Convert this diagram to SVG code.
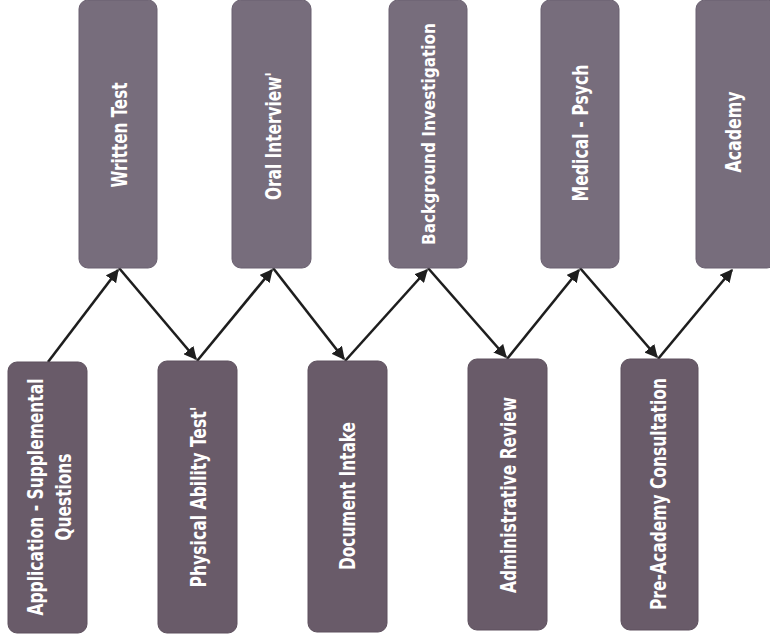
<svg xmlns="http://www.w3.org/2000/svg" width="770" height="642" viewBox="0 0 770 642">
<defs>
<style>
.top{fill:#776d7c;stroke:#6a6070;stroke-width:1}
.bot{fill:#695b69;stroke:#5e515e;stroke-width:1}
.lbl{fill:#ffffff;font-family:"Liberation Sans Narrow","DejaVu Sans Condensed","Liberation Sans",sans-serif;font-weight:bold;font-size:21px;text-anchor:middle}
.con{stroke:#1e1e1e;stroke-width:2.6;fill:none;marker-end:url(#ah)}
</style>
<marker id="ah" viewBox="0 0 10 10" refX="9" refY="5" markerWidth="5" markerHeight="5" orient="auto" markerUnits="strokeWidth">
<path d="M0,0 L10,5 L0,10 z" fill="#1e1e1e"/>
</marker>
</defs>
<rect width="770" height="642" fill="#ffffff"/>
<g id="connectors">
<line class="con" x1="48" y1="362" x2="118" y2="270"/>
<line class="con" x1="119" y1="268" x2="196" y2="359"/>
<line class="con" x1="197" y1="361" x2="272" y2="270"/>
<line class="con" x1="273" y1="268" x2="344" y2="359"/>
<line class="con" x1="345" y1="361" x2="427" y2="270"/>
<line class="con" x1="428" y1="268" x2="506" y2="357"/>
<line class="con" x1="507" y1="359" x2="579" y2="270"/>
<line class="con" x1="580" y1="268" x2="657" y2="357"/>
<line class="con" x1="658" y1="359" x2="732" y2="270"/>
</g>
<g id="written-test">
<rect class="top" x="79" y="0" width="78" height="268" rx="9"/>
<text class="lbl" transform="translate(119,135) rotate(-90)" dy="0.36em" textLength="105" lengthAdjust="spacingAndGlyphs">Written Test</text>
</g>
<g id="oral-interview">
<rect class="top" x="232" y="0" width="79" height="268" rx="9"/>
<text class="lbl" transform="translate(273,136) rotate(-90)" dy="0.36em" textLength="128" lengthAdjust="spacingAndGlyphs">Oral Interview'</text>
</g>
<g id="background-investigation">
<rect class="top" x="389" y="0" width="78" height="268" rx="9"/>
<text class="lbl" style="font-size:18px" transform="translate(428,134) rotate(-90)" dy="0.4em" textLength="222" lengthAdjust="spacingAndGlyphs">Background Investigation</text>
</g>
<g id="medical-psych">
<rect class="top" x="541" y="0" width="78" height="268" rx="9"/>
<text class="lbl" transform="translate(580,133) rotate(-90)" dy="0.36em" textLength="137" lengthAdjust="spacingAndGlyphs">Medical - Psych</text>
</g>
<g id="academy">
<rect class="top" x="696" y="0" width="80" height="268" rx="9"/>
<text class="lbl" transform="translate(733,132) rotate(-90)" dy="0.36em" textLength="81" lengthAdjust="spacingAndGlyphs">Academy</text>
</g>
<g id="application">
<rect class="bot" x="8" y="362" width="79" height="271" rx="9"/>
<text class="lbl" transform="translate(35,497) rotate(-90)" dy="0.36em" textLength="237" lengthAdjust="spacingAndGlyphs">Application - Supplemental</text>
<text class="lbl" transform="translate(63,497) rotate(-90)" dy="0.36em" textLength="87" lengthAdjust="spacingAndGlyphs">Questions</text>
</g>
<g id="physical-ability-test">
<rect class="bot" x="158" y="361" width="79" height="272" rx="9"/>
<text class="lbl" transform="translate(198,497) rotate(-90)" dy="0.36em" textLength="181" lengthAdjust="spacingAndGlyphs">Physical  Ability Test'</text>
</g>
<g id="document-intake">
<rect class="bot" x="308" y="361" width="79" height="271" rx="9"/>
<text class="lbl" transform="translate(347,496) rotate(-90)" dy="0.36em" textLength="148" lengthAdjust="spacingAndGlyphs">Document Intake</text>
</g>
<g id="administrative-review">
<rect class="bot" x="468" y="359" width="79" height="271" rx="9"/>
<text class="lbl" transform="translate(508,495) rotate(-90)" dy="0.36em" textLength="196" lengthAdjust="spacingAndGlyphs">Administrative Review</text>
</g>
<g id="pre-academy-consultation">
<rect class="bot" x="621" y="359" width="77" height="271" rx="9"/>
<text class="lbl" transform="translate(658,494) rotate(-90)" dy="0.36em" textLength="232" lengthAdjust="spacingAndGlyphs">Pre-Academy Consultation</text>
</g>
</svg>
